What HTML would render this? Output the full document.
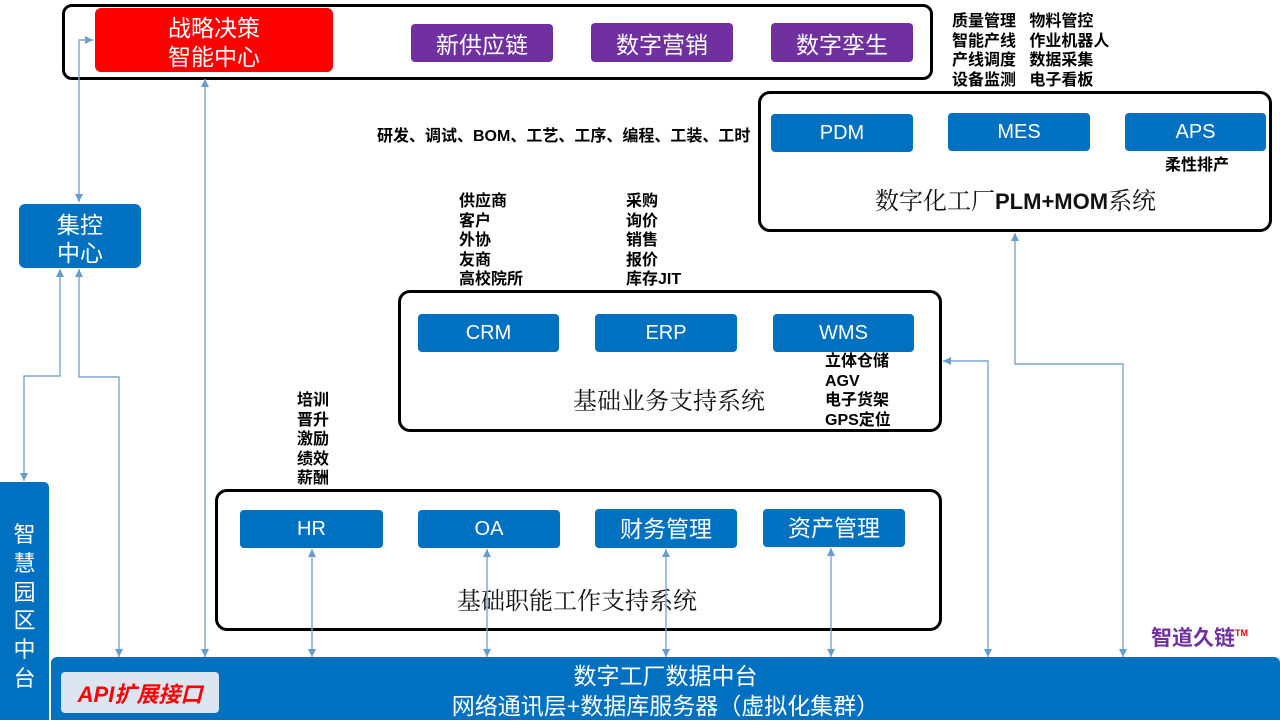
<!DOCTYPE html>
<html><head><meta charset="utf-8"><style>
*{margin:0;padding:0;box-sizing:border-box}
body{width:1280px;height:720px;background:#fff;position:relative;overflow:hidden;font-family:"Liberation Sans","Noto Sans CJK SC",sans-serif}
.a{position:absolute}
.frame{position:absolute;border:3px solid #000;border-radius:12px}
.bx{position:absolute;display:flex;align-items:center;justify-content:center;color:#fff;border-radius:4px;text-align:center}
.blue{background:#0070C0}
.pur{background:#7030A0}
.t20{font-size:20px}
.t23{font-size:23px}
.lbl{position:absolute;font-weight:bold;font-size:16px;line-height:19.6px;color:#000;white-space:nowrap}
.ser{position:absolute;font-family:"Liberation Serif","Noto Serif CJK SC",serif;font-size:24px;color:#111;white-space:nowrap}
</style></head><body>

<!-- top frame -->
<div class="frame" style="left:62px;top:4px;width:871px;height:76px;border-radius:10px"></div>
<div class="bx" style="left:95px;top:8px;width:238px;height:64px;background:#FF0000;border-radius:6px;font-size:23px;line-height:29px;padding-top:6px">战略决策<br>智能中心</div>
<div class="bx pur t23" style="left:411px;top:24px;width:142px;height:38px">新供应链</div>
<div class="bx pur t23" style="left:591px;top:23px;width:142px;height:39px">数字营销</div>
<div class="bx pur t23" style="left:771px;top:23px;width:142px;height:39px">数字孪生</div>

<div class="lbl" style="left:952px;top:12px">质量管理&nbsp;&nbsp;&nbsp;物料管控<br>智能产线&nbsp;&nbsp;&nbsp;作业机器人<br>产线调度&nbsp;&nbsp;&nbsp;数据采集<br>设备监测&nbsp;&nbsp;&nbsp;电子看板</div>

<!-- PLM frame -->
<div class="frame" style="left:758px;top:91px;width:514px;height:141px"></div>
<div class="bx blue t20" style="left:771px;top:114px;width:142px;height:38px">PDM</div>
<div class="bx blue t20" style="left:948px;top:113px;width:142px;height:38px">MES</div>
<div class="bx blue t20" style="left:1125px;top:113px;width:141px;height:38px">APS</div>
<div class="lbl" style="left:1165px;top:156px">柔性排产</div>
<div class="ser" style="left:875px;top:181px">数字化工厂<b style="font-family:'Liberation Sans','Noto Sans CJK SC',sans-serif;font-size:22px">PLM+MOM</b>系统</div>

<div class="lbl" style="left:377px;top:127px">研发、调试、BOM、工艺、工序、编程、工装、工时</div>
<div class="lbl" style="left:459px;top:192px">供应商<br>客户<br>外协<br>友商<br>高校院所</div>
<div class="lbl" style="left:626px;top:192px">采购<br>询价<br>销售<br>报价<br>库存JIT</div>

<!-- business frame -->
<div class="frame" style="left:398px;top:290px;width:544px;height:142px"></div>
<div class="bx blue t20" style="left:418px;top:314px;width:141px;height:38px">CRM</div>
<div class="bx blue t20" style="left:595px;top:314px;width:142px;height:38px">ERP</div>
<div class="bx blue t20" style="left:773px;top:314px;width:141px;height:38px">WMS</div>
<div class="lbl" style="left:825px;top:352px">立体仓储<br>AGV<br>电子货架<br>GPS定位</div>
<div class="ser" style="left:573px;top:381px">基础业务支持系统</div>

<div class="lbl" style="left:297px;top:391px">培训<br>晋升<br>激励<br>绩效<br>薪酬</div>

<!-- function frame -->
<div class="frame" style="left:215px;top:489px;width:727px;height:142px"></div>
<div class="bx blue t20" style="left:240px;top:510px;width:143px;height:38px">HR</div>
<div class="bx blue t20" style="left:418px;top:510px;width:142px;height:38px">OA</div>
<div class="bx blue t23" style="left:595px;top:509px;width:142px;height:39px;padding-bottom:4px">财务管理</div>
<div class="bx blue t23" style="left:763px;top:509px;width:142px;height:38px;padding-bottom:4px">资产管理</div>
<div class="ser" style="left:457px;top:581px">基础职能工作支持系统</div>

<!-- left -->
<div class="bx blue" style="left:19px;top:204px;width:122px;height:64px;border-radius:6px;font-size:23px;line-height:28px;padding-top:6px">集控<br>中心</div>
<div class="bx blue" style="left:0;top:482px;width:49px;height:238px;border-radius:0 5px 0 0;font-size:22px;line-height:28.8px;align-items:flex-start;padding-top:39px">智<br>慧<br>园<br>区<br>中<br>台</div>

<!-- base -->
<div class="bx blue" style="left:51px;top:657px;width:1229px;height:63px;border-radius:6px 6px 0 0;font-size:23px;line-height:30px;flex-direction:column;padding-top:4px">
<div>数字工厂数据中台</div><div>网络通讯层+数据库服务器（虚拟化集群）</div></div>
<div class="bx" style="left:61px;top:672px;width:158px;height:41px;background:#DCE6F2;border-radius:4px;color:#F00;font-style:italic;font-weight:bold;font-size:22px">API扩展接口</div>

<div class="a" style="left:1151px;top:622px;color:#7030A0;font-weight:bold;font-size:21px;white-space:nowrap">智道久链<span style="color:#E00;font-size:9px;vertical-align:9px">TM</span></div>

<svg class="a" style="left:0;top:0" width="1280" height="720">
<defs><marker id="m" markerUnits="userSpaceOnUse" markerWidth="9" markerHeight="9" refX="8" refY="4" orient="auto-start-reverse"><path d="M0,0 L8,4 L0,8 z" fill="#6A9BD0"/></marker></defs>
<g fill="none" stroke="#7BA5D4" stroke-width="1.4" marker-start="url(#m)" marker-end="url(#m)">
<path d="M93,40 L79,40 L79,202"/>
<path d="M205,79 L205,657"/>
<path d="M60,269 L60,376 L24,376 L24,481"/>
<path d="M79,269 L79,377 L119,377 L119,657"/>
<path d="M312,549 L312,657"/>
<path d="M487,549 L487,657"/>
<path d="M666,549 L666,657"/>
<path d="M831,548 L831,657"/>
<path d="M943,361 L988,361 L988,657"/>
<path d="M1015,233 L1015,364 L1123,364 L1123,657"/>
</g></svg>
</body></html>
